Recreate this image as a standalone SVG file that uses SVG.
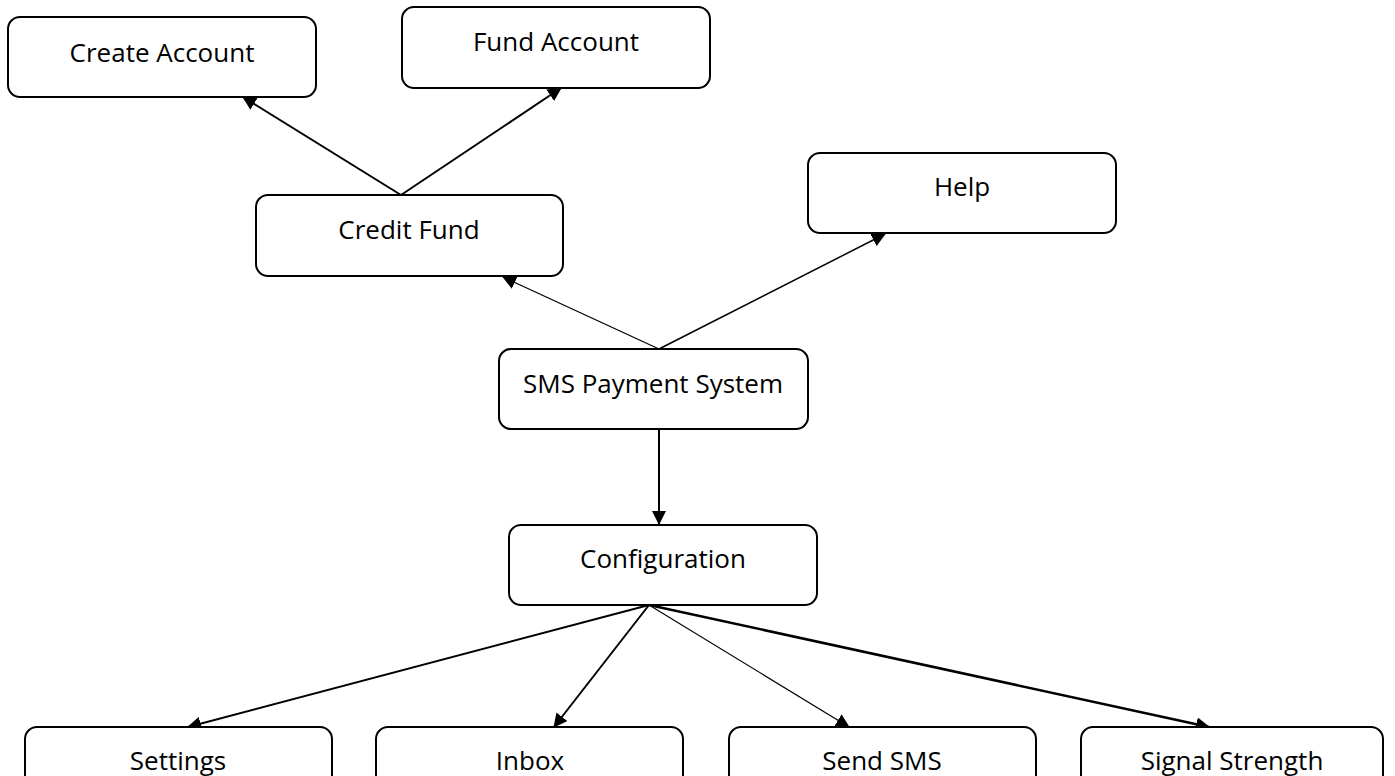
<svg xmlns="http://www.w3.org/2000/svg" width="1395" height="776" viewBox="0 0 1395 776">
<style>
.box{fill:#fff;stroke:#000;stroke-width:2}
.lbl{font-family:"Open Sans","Liberation Sans",sans-serif;font-size:26px;fill:#000;text-anchor:middle}
.c{stroke:#000;fill:none}
</style>
<defs>
<marker id="ah" markerUnits="userSpaceOnUse" markerWidth="14" markerHeight="14" refX="13" refY="7" orient="auto" viewBox="0 0 14 14">
<path d="M0,0 L14,7 L0,14 z" fill="#000"/>
</marker>
</defs>
<rect width="1395" height="776" fill="#fff"/>
<g id="connectors">
<line class="c" x1="401" y1="195" x2="243" y2="97" stroke-width="2" marker-end="url(#ah)"/>
<line class="c" x1="401" y1="195" x2="561" y2="88" stroke-width="2" marker-end="url(#ah)"/>
<line class="c" x1="659" y1="349" x2="503" y2="277" stroke-width="1.2" marker-end="url(#ah)"/>
<line class="c" x1="659" y1="349" x2="885" y2="234" stroke-width="1.5" marker-end="url(#ah)"/>
<line class="c" x1="659" y1="429" x2="659" y2="524" stroke-width="2" marker-end="url(#ah)"/>
<line class="c" x1="649" y1="605" x2="188" y2="727" stroke-width="2" marker-end="url(#ah)"/>
<line class="c" x1="649" y1="605" x2="554" y2="727" stroke-width="2" marker-end="url(#ah)"/>
<line class="c" x1="649" y1="605" x2="849" y2="727" stroke-width="1.2" marker-end="url(#ah)"/>
<line class="c" x1="649" y1="605" x2="1209" y2="727" stroke-width="2.5" marker-end="url(#ah)"/>
</g>
<g id="create-account"><rect class="box" x="8" y="17" width="308" height="80" rx="12"/><text class="lbl" x="162" y="62">Create Account</text></g>
<g id="fund-account"><rect class="box" x="402" y="7" width="308" height="81" rx="12"/><text class="lbl" x="556" y="51">Fund Account</text></g>
<g id="credit-fund"><rect class="box" x="256" y="195" width="307" height="81" rx="12"/><text class="lbl" x="409" y="239">Credit Fund</text></g>
<g id="help"><rect class="box" x="808" y="153" width="308" height="80" rx="12"/><text class="lbl" x="962" y="196">Help</text></g>
<g id="sms-payment-system"><rect class="box" x="499" y="349" width="309" height="80" rx="12"/><text class="lbl" x="653" y="393">SMS Payment System</text></g>
<g id="configuration"><rect class="box" x="509" y="525" width="308" height="80" rx="12"/><text class="lbl" x="663" y="568">Configuration</text></g>
<g id="settings"><rect class="box" x="25" y="727" width="307" height="80" rx="12"/><text class="lbl" x="178" y="770">Settings</text></g>
<g id="inbox"><rect class="box" x="376" y="727" width="307" height="80" rx="12"/><text class="lbl" x="530" y="770">Inbox</text></g>
<g id="send-sms"><rect class="box" x="729" y="727" width="307" height="80" rx="12"/><text class="lbl" x="882" y="770">Send SMS</text></g>
<g id="signal-strength"><rect class="box" x="1081" y="727" width="302" height="80" rx="12"/><text class="lbl" x="1232" y="770">Signal Strength</text></g>
</svg>
